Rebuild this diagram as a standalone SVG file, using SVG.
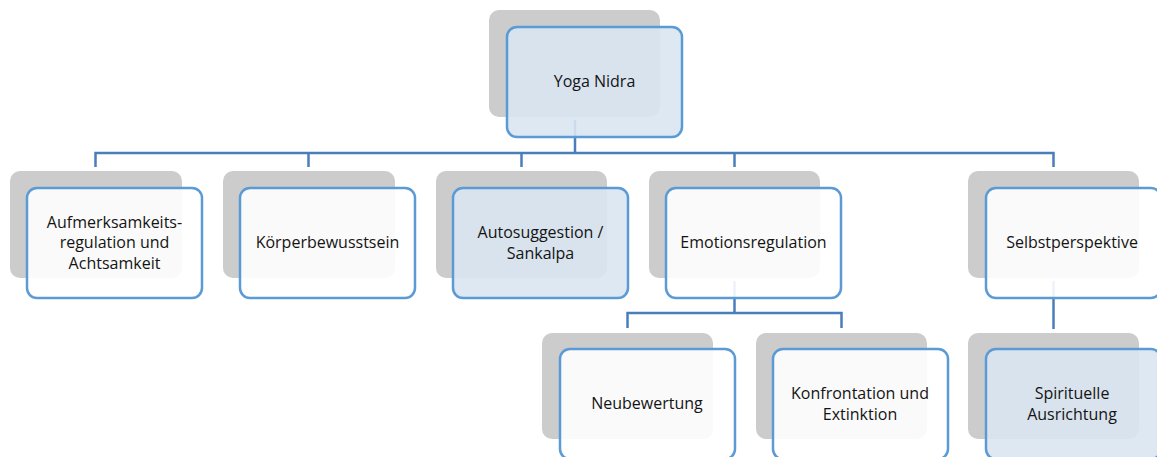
<svg xmlns="http://www.w3.org/2000/svg" width="1157" height="457" viewBox="0 0 1157 457">
  <style>
    .bg { fill: #ffffff; }
    .shadow { fill: #cdcccc; }
    .box { fill: #ffffff; fill-opacity: 0.9; stroke: #5b9bd5; stroke-width: 2.5; }
    .box.blue { fill: #d9e5f2; }
    .conn { fill: none; stroke: #4a7ebb; stroke-width: 2.5; }
    text { font-family: "Open Sans", "Liberation Sans", sans-serif; font-size: 16px; fill: #141414; text-anchor: middle; }
  </style>
  <rect class="bg" x="0" y="0" width="1157" height="457"/>
  <g id="connectors">
    <path class="conn" d="M575 120 V153"/>
    <path class="conn" d="M95.5 167 V153 H1053.5 V167"/>
    <path class="conn" d="M308.5 153 V167"/>
    <path class="conn" d="M521.5 153 V167"/>
    <path class="conn" d="M734.5 153 V167"/>
    <path class="conn" d="M734.5 281 V313"/>
    <path class="conn" d="M627.5 328 V313 H841.5 V328"/>
    <path class="conn" d="M1053.5 281 V329"/>
  </g>
  <g id="node-yoga-nidra">
    <rect class="shadow" x="489" y="10" width="171" height="107" rx="10"/>
    <rect class="box blue" x="507" y="27" width="175" height="110" rx="10"/>
    <text x="594.5" y="87.3">Yoga Nidra</text>
  </g>
  <g id="node-aufmerksamkeit">
    <rect class="shadow" x="10" y="171" width="172" height="107" rx="10"/>
    <rect class="box" x="27" y="188" width="175" height="110" rx="10"/>
    <text x="114.5" y="228">Aufmerksamkeits-</text>
    <text x="114.5" y="248.3">regulation und</text>
    <text x="114.5" y="268.6">Achtsamkeit</text>
  </g>
  <g id="node-koerper">
    <rect class="shadow" x="223" y="171" width="172" height="107" rx="10"/>
    <rect class="box" x="240" y="188" width="175" height="110" rx="10"/>
    <text x="327.5" y="248.3">Körperbewusstsein</text>
  </g>
  <g id="node-autosuggestion">
    <rect class="shadow" x="436" y="171" width="171" height="107" rx="10"/>
    <rect class="box blue" x="453" y="188" width="175" height="110" rx="10"/>
    <text x="540.5" y="238">Autosuggestion /</text>
    <text x="540.5" y="258.5">Sankalpa</text>
  </g>
  <g id="node-emotionsregulation">
    <rect class="shadow" x="649" y="171" width="171" height="107" rx="10"/>
    <rect class="box" x="666" y="188" width="175" height="110" rx="10"/>
    <text x="753.5" y="248.3">Emotionsregulation</text>
  </g>
  <g id="node-selbstperspektive">
    <rect class="shadow" x="968" y="171" width="171" height="107" rx="10"/>
    <rect class="box" x="986" y="188" width="175" height="110" rx="10"/>
    <text x="1072" y="248.3">Selbstperspektive</text>
  </g>
  <g id="node-neubewertung">
    <rect class="shadow" x="542" y="333" width="171" height="106" rx="10"/>
    <rect class="box" x="560" y="349" width="175" height="110" rx="10"/>
    <text x="647" y="409.3">Neubewertung</text>
  </g>
  <g id="node-konfrontation">
    <rect class="shadow" x="756" y="333" width="171" height="106" rx="10"/>
    <rect class="box" x="773" y="349" width="175" height="110" rx="10"/>
    <text x="860" y="399">Konfrontation und</text>
    <text x="860" y="419.5">Extinktion</text>
  </g>
  <g id="node-spirituelle">
    <rect class="shadow" x="968" y="333" width="171" height="106" rx="10"/>
    <rect class="box blue" x="986" y="349" width="175" height="110" rx="10"/>
    <text x="1072" y="399">Spirituelle</text>
    <text x="1072" y="419.5">Ausrichtung</text>
  </g>
</svg>
